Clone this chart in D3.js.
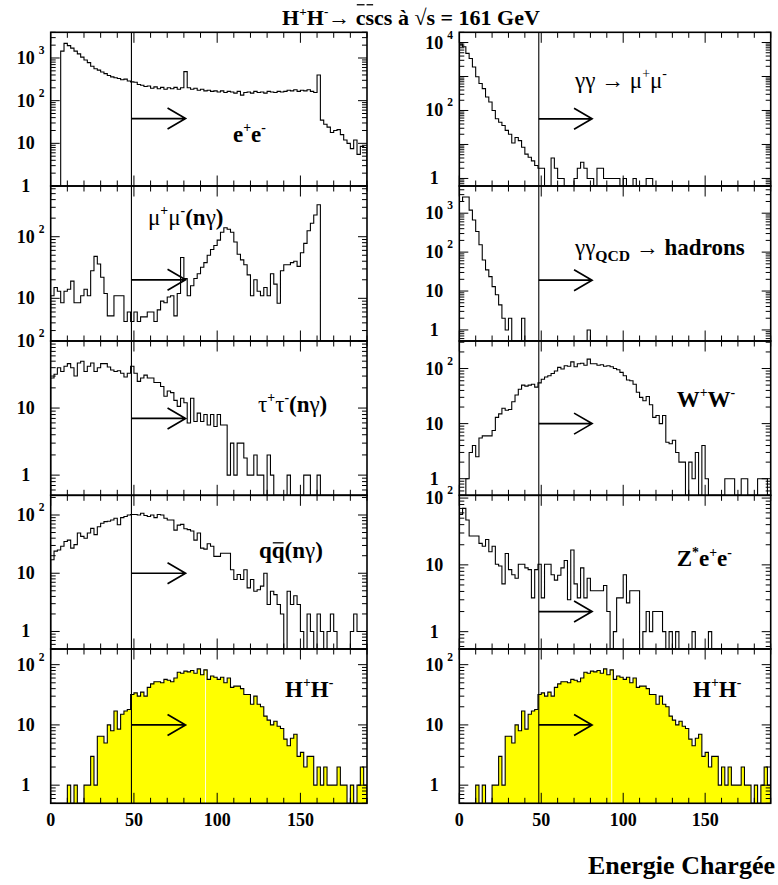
<!DOCTYPE html>
<html><head><meta charset="utf-8">
<script src="https://cdn.jsdelivr.net/npm/d3@7"></script>
<style>body{margin:0;background:#fff}svg{display:block}</style>
</head><body>
<svg id="c" width="778" height="885"></svg>
<script>
// ---------------- DATA ----------------
const binWidth = 2;               // GeV per bin, 95 bins from 0 to 190
const xDomain = [0, 190];
const xTickLabels = [0, 50, 100, 150];
const cutValue = 48.5;            // selection cut (GeV)
const arrowEnd = 81;              // arrow tip (GeV)

const eeValues = [0,0,0,1450,2200,1950,1700,1450,1250,1050,
 900,780,640,560,520,470,430,390,360,345,
 330,310,320,290,275,270,240,230,215,220,
 195,210,190,205,185,200,190,205,185,200,
 480,200,185,195,175,185,170,175,165,170,
 160,170,155,165,160,150,165,135,155,160,
 150,165,155,160,150,165,160,155,165,160,
 165,175,170,180,165,175,170,180,165,155,
 400,35,28,24,18,20,21,16,12,10,
 7.5,12,5.5,8.5,8];

const mumuValues = [11,15,13,8.5,13,14,19,8.5,8.5,11,
 14,11,28,48,36,22,12,5.2,5.2,11,
 11,11,4.2,6,4.2,6,4.2,5,5,6,
 6,4.2,6.5,9,8.5,10.5,11,5.2,12,46,
 21,11,16,21,25,32,38,50,62,72,
 88,118,140,132,118,82,52,42,35,24,
 11,20,13,11,15,11,25,17,8.3,28,
 35,35,38,40,33,55,78,125,165,225,
 330,0,0,0,0,0,0,0,0,0,
 0,0,0,0,0];

const tautauValues = [28,32,40,35,42,46,40,30,47,50,
 35,42,47,35,40,46,46,41,37,35,
 36,33,29,33,42,33,25,28,31,28,
 28,24,24,21,15,18,17,13,10.6,14,
 12,6,14,6.3,8.4,6.3,8,5.6,8,5.3,
 8,5.6,5.6,1,3,1,3,3,1.8,1,
 1,2,1,1,0,2,1,0,0,0,
 0,1,0,0,0,0,1,1,0,0,
 1,0,0,0,0,0,0,0,0,0,
 0,0,0,0,0];

const qqValues = [17,24,25,29,35,37,27,31,49,43,
 40,49,59,46,63,72,77,78,82,88,
 68,90,94,100,102,102,100,107,98,94,
 100,90,102,100,88,82,82,55,67,69,
 58,56,53,37,49,27,26,32,29,19.5,
 19.5,22,22,22,11.5,7.8,9.5,7.8,11.5,5.6,
 7.8,4.9,5.2,6,10,2.9,4.9,4.3,2.9,2,
 0,4.9,2.9,4.1,2.9,1,0,2,1,0,
 2,1,0,1,2,1,0,0,0,0,
 1,2,1,1,1];

const hhValues = [0,0,0,0,0,1,0,1,0,0,
 1,1,3,1,6.5,6.5,5,10,8,17,
 8.5,15,17,18,32,34,30,35,30,42,
 48,52,52,50,57,55,52,60,75,72,
 78,76,80,72,85,68,82,57,65,62,
 57,62,50,60,42,44,44,40,32,32,
 22,30,22,20,14,12,10,11.5,9.5,8.7,
 5.8,4.5,6,7,3,3.5,2,3,3,1,
 2,1,2,1,1,1,2,1,1,0,
 1,0,1,2,1];

const ggMuMuValues = [9000,7500,4800,3400,1900,980,620,440,250,178,
 100,57,45,36,26,20,11,16,13,8.3,
 5.2,4.2,3.3,2.4,2,2,0,0,4,2,
 1,1,0,0,0,1,2,3,2,1,
 1,0,2,2,1,1,1,1,1,0,
 1,0,0,1,0,0,0,1,1,0,
 0,0,0,0,0,0,0,0,0,0,
 0,0,0,0,0,0,0,0,0,0,
 0,0,0,0,0,0,0,0,0,0,
 0,0,0,0,0];

const ggQcdValues = [2000,2600,2600,1200,670,340,155,63,35,23.5,
 13,8,4.4,2,1,2,0,0,0,2,
 0,0,0,0,0,0,0,0,0,0,
 0,0,0,0,0,0,0,0,0,1,
 0,0,0,0,0,0,0,0,0,0,
 0,0,0,0,0,0,0,0,0,0,
 0,0,0,0,0,0,0,0,0,0,
 0,0,0,0,0,0,0,0,0,0,
 0,0,0,0,0,0,0,0,0,0,
 0,0,0,0,0];

const wwValues = [0,0,1,3,4,2.5,5.5,6,6,6,
 7.5,13,15,19,17.5,18,25,33,42,50,
 48,50,52,46,55,64,70,74,81,90,
 105,98,112,110,132,108,122,125,115,148,
 122,122,115,117,110,112,108,100,95,85,
 74,62,60,52,37,30,26,31,22,13,
 14,10,14,4.6,4.3,5,3,2,2,0,
 2,1,3,0,4,1,0,0,0,0,
 0,1,1,1,0,0,1,1,0,0,
 0,1,1,1,0];

const zeeValues = [57,70,47,27,27,27,21,19,24,15.7,
 19,10.2,9.6,5.2,14.8,8.5,7.1,6.3,10.2,10.2,
 9,8.5,3.2,8.5,10.2,3.2,10.2,10.2,7.1,5.9,
 7,9,11.6,3,16.7,5.2,3.2,9,3.2,6.3,
 4.1,4.1,4.1,4.1,4.9,2,0,1,3.2,3.2,
 7.1,2.7,4.1,4.1,4.1,0,1,2,1,2,
 2,2,1,0,1,0,1,0,0,0,
 0,1,0,0,0,0,1,0,0,0,
 0,0,0,0,0,0,0,0,0,0,
 0,0,0,0,0];

// y ranges, decade labels and arrow levels for each panel
const yDomains   = [[1,4000],[2.03,665],[0.5,100],[0.5,218],[0.5,182],
                    [0.6,20000],[0.52,5000],[0.5,316],[0.55,110],[0.5,182]];
const yLabelExps = [[0,1,2,3],[1,2],[0,1,2],[0,1,2],[0,1,2],
                    [0,2,4],[0,1,2,3],[0,1,2],[0,1,2],[0,1,2]];
const arrowLevels = [38,20,7,10,10, 57,19,10,2,10];
const seriesList = [eeValues,mumuValues,tautauValues,qqValues,hhValues,
                    ggMuMuValues,ggQcdValues,wwValues,zeeValues,hhValues];
const filled = [false,false,false,false,true,false,false,false,false,true];

// ---------------- LAYOUT ----------------
const colX = [[50.7,367],[459.3,770.7]];
const rowY = [32.3,186,341,495.3,649,803.3];
const FONT = '"Liberation Serif","Times New Roman",Times,serif';
const svg = d3.select('#c');

function rich(parent, x, y, parts, size, anchor, ovRise){
  const t = parent.append('text').attr('x',x).attr('y',y)
    .attr('font-family',FONT).attr('font-size',size)
    .attr('text-anchor',anchor||'start').attr('fill','#000');
  let shift = 0, idx = 0; const ov = [];
  parts.forEach(p=>{
    const target = p.s==='sup' ? -0.42*size : (p.s==='sub' ? 0.28*size : 0);
    const ts = t.append('tspan').text(p.t)
      .attr('font-weight', p.w||'bold').attr('dy', target-shift);
    if (p.s) ts.attr('font-size', size*(p.r||0.6));
    if (p.ov) ov.push([idx, idx+p.t.length-1]);
    idx += p.t.length; shift = target;
  });
  const node = t.node();
  const rise = ovRise || 0.8;
  ov.forEach(([a,b])=>{
    const s = node.getStartPositionOfChar(a), e = node.getEndPositionOfChar(b);
    parent.append('line').attr('x1',s.x+1).attr('x2',e.x-1)
      .attr('y1',y-rise*size).attr('y2',y-rise*size)
      .attr('stroke','#000').attr('stroke-width',1.3);
  });
  return t;
}

// ---------------- PANELS ----------------
seriesList.forEach((vals,k)=>{
  const col = k<5 ? 0 : 1, row = k%5;
  const x = d3.scaleLinear().domain(xDomain).range(colX[col]);
  const y = d3.scaleLog().domain(yDomains[k]).range([rowY[row+1], rowY[row]]);
  const ymin = yDomains[k][0];
  const g = svg.append('g');
  const cid = 'clip'+k;
  g.append('clipPath').attr('id',cid).append('rect')
    .attr('x',x(xDomain[0])).attr('y',y.range()[1])
    .attr('width',x(xDomain[1])-x(xDomain[0])).attr('height',y.range()[0]-y.range()[1]);
  const pts = [[xDomain[0], ymin]];
  vals.forEach((v,i)=>{ const vv=Math.max(v,ymin); pts.push([i*binWidth,vv],[(i+1)*binWidth,vv]); });
  pts.push([vals.length*binWidth, ymin]);
  const inner = g.append('g').attr('clip-path',`url(#${cid})`);
  if (filled[k]) {
    inner.append('path').datum(pts)
      .attr('d', d3.area().x(d=>x(d[0])).y0(y(ymin)).y1(d=>y(d[1])))
      .attr('fill','#ffff00').attr('stroke','none');
    const seamBin = Math.floor(93/binWidth);
    inner.append('line').attr('x1',x(93)).attr('x2',x(93))
      .attr('y1',y(ymin)).attr('y2',y(Math.max(vals[seamBin],ymin))+1)
      .attr('stroke','#fffde0').attr('stroke-width',1);
  }
  inner.append('path').datum(pts)
    .attr('d', d3.line().x(d=>x(d[0])).y(d=>y(d[1])))
    .attr('fill','none').attr('stroke','#000').attr('stroke-width',1.1);
  // cut line
  g.append('line').attr('x1',x(cutValue)).attr('x2',x(cutValue))
    .attr('y1',y.range()[0]).attr('y2',y.range()[1]).attr('stroke','#000').attr('stroke-width',1.1);
  // arrow
  const ay = y(arrowLevels[k]), ax0 = x(cutValue), ax1 = x(arrowEnd);
  g.append('path').attr('d',`M${ax0},${ay}H${ax1}M${ax1-18},${ay-10.5}L${ax1},${ay}L${ax1-18},${ay+10.5}`)
    .attr('fill','none').attr('stroke','#000').attr('stroke-width',1.7);
  // x ticks
  const yb = y.range()[0], yt = y.range()[1];
  d3.range(xDomain[0], xDomain[1]+0.1, 10).forEach(t=>{
    const len = t%50===0 ? 10.5 : 5.5;
    g.append('line').attr('x1',x(t)).attr('x2',x(t)).attr('y1',yb).attr('y2',yb-len).attr('stroke','#000').attr('stroke-width',1);
    g.append('line').attr('x1',x(t)).attr('x2',x(t)).attr('y1',yt).attr('y2',yt+len).attr('stroke','#000').attr('stroke-width',1);
  });
  // y ticks (log)
  const [d0,d1] = yDomains[k];
  const xl = x.range()[0], xr = x.range()[1];
  for (let e=Math.floor(Math.log10(d0)); e<=Math.ceil(Math.log10(d1)); e++){
    for (let m=1; m<=9; m++){
      const v = m*Math.pow(10,e);
      if (v<d0*0.999 || v>d1*1.001) continue;
      const len = m===1 ? 9 : 5;
      g.append('line').attr('x1',xl).attr('x2',xl+len).attr('y1',y(v)).attr('y2',y(v)).attr('stroke','#000').attr('stroke-width',1);
      g.append('line').attr('x1',xr).attr('x2',xr-len).attr('y1',y(v)).attr('y2',y(v)).attr('stroke','#000').attr('stroke-width',1);
    }
  }
  // frame
  g.append('rect').attr('x',xl).attr('y',yt).attr('width',xr-xl).attr('height',yb-yt)
    .attr('fill','none').attr('stroke','#000').attr('stroke-width',1.6);
  // y labels
  const cx = xl - 25;
  yLabelExps[k].forEach(e=>{
    const yy = y(Math.pow(10,e));
    const txt = e===0 ? '1' : '10';
    svg.append('text').attr('x',cx).attr('y',yy+6).attr('text-anchor','middle')
      .attr('font-family',FONT).attr('font-weight','bold').attr('font-size',18).text(txt);
    if (e>=2) svg.append('text').attr('x',cx+13).attr('y',yy-4)
      .attr('font-family',FONT).attr('font-weight','bold').attr('font-size',11.5).text(String(e));
  });
  // x labels on bottom row
  if (row===4) xTickLabels.forEach(t=>{
    svg.append('text').attr('x',x(t)).attr('y',826).attr('text-anchor','middle')
      .attr('font-family',FONT).attr('font-weight','bold').attr('font-size',18).text(t);
  });
});

// ---------------- TEXT ----------------
const N='normal';
rich(svg, 411, 25, [{t:'H'},{t:'+',s:'sup'},{t:'H'},{t:'-',s:'sup'},{t:'\u2192 ',w:N},
  {t:'c',ov:true},{t:'s',ov:true},{t:'cs'},{t:' à √s = 161 GeV'}], 22, 'middle', 0.92);
rich(svg, 233, 141.7, [{t:'e'},{t:'+',s:'sup'},{t:'e'},{t:'-',s:'sup'}], 23);
rich(svg, 148, 225, [{t:'μ',w:N},{t:'+',s:'sup'},{t:'μ',w:N},{t:'-',s:'sup'},{t:'(n'},{t:'γ',w:N},{t:')'}], 23);
rich(svg, 258, 411.7, [{t:'τ',w:N},{t:'+',s:'sup'},{t:'τ',w:N},{t:'-',s:'sup'},{t:'(n'},{t:'γ',w:N},{t:')'}], 23);
rich(svg, 259, 558, [{t:'q'},{t:'q',ov:true},{t:'(n'},{t:'γ',w:N},{t:')'}], 23, 'start', 0.66);
rich(svg, 285, 696.7, [{t:'H'},{t:'+',s:'sup'},{t:'H'},{t:'-',s:'sup'}], 23);
rich(svg, 575, 88, [{t:'γγ → μ',w:N},{t:'+',s:'sup',w:N},{t:'μ',w:N},{t:'-',s:'sup',w:N}], 23);
rich(svg, 575, 255, [{t:'γγ',w:N},{t:'QCD',s:'sub',r:0.68},{t:' → ',w:N},{t:'hadrons'}], 23);
rich(svg, 676.7, 406.7, [{t:'W'},{t:'+',s:'sup'},{t:'W'},{t:'-',s:'sup'}], 23);
rich(svg, 676.7, 566.3, [{t:'Z'},{t:'*',s:'sup'},{t:'e'},{t:'+',s:'sup'},{t:'e'},{t:'-',s:'sup'}], 23);
rich(svg, 693, 696.7, [{t:'H'},{t:'+',s:'sup'},{t:'H'},{t:'-',s:'sup'}], 23);
svg.append('text').attr('x',775).attr('y',874).attr('text-anchor','end')
  .attr('font-family',FONT).attr('font-weight','bold').attr('font-size',26).text('Energie Chargée');
</script>
</body></html>
